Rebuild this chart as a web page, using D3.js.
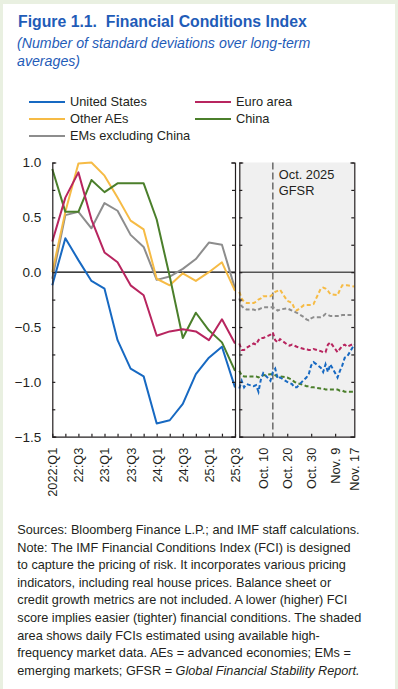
<!DOCTYPE html>
<html lang="en">
<head>
<meta charset="utf-8">
<style>
body { margin: 0; background: #e9f0e1; }
svg { display: block; font-family: "Liberation Sans", Arial, sans-serif; }
.axis text { font-size: 13.5px; fill: #231f20; }
.axis line, .axis path { stroke: #231f20; stroke-width: 1.2px; }
.xlab text { font-size: 12.8px; }
</style>
<script type="text/javascript" src="https://d3js.org/d3.v7.min.js"></script>
</head>
<body>
<script type="text/javascript">

// ---- data ----
var quarters = ["2022:Q1","22:Q2","22:Q3","22:Q4","23:Q1","23:Q2","23:Q3","23:Q4",
                "24:Q1","24:Q2","24:Q3","24:Q4","25:Q1","25:Q2","25:Q3"];

var usQ    = [-0.12, 0.31, 0.11, -0.08, -0.15, -0.62, -0.88, -0.95, -1.38, -1.35, -1.20, -0.93, -0.78, -0.68, -1.05];
var euroQ  = [0.28, 0.68, 0.91, 0.48, 0.18, 0.09, -0.12, -0.21, -0.58, -0.54, -0.52, -0.54, -0.62, -0.43, -0.65];
var aesQ   = [0.00, 0.55, 0.99, 1.00, 0.88, 0.68, 0.47, 0.39, -0.06, -0.12, -0.01, -0.08, 0.00, 0.09, -0.17];
var chinaQ = [0.94, 0.55, 0.55, 0.84, 0.73, 0.81, 0.81, 0.81, 0.48, -0.04, -0.60, -0.37, -0.53, -0.64, -0.90];
var emxQ   = [-0.06, 0.52, 0.55, 0.40, 0.63, 0.56, 0.34, 0.23, -0.07, -0.04, 0.03, 0.12, 0.27, 0.25, -0.15];

var days = ["2025-09-30","2025-10-01","2025-10-02","2025-10-03","2025-10-06","2025-10-07","2025-10-08",
            "2025-10-09","2025-10-10","2025-10-13","2025-10-14","2025-10-15","2025-10-16","2025-10-17",
            "2025-10-20","2025-10-21","2025-10-22","2025-10-23","2025-10-24","2025-10-27","2025-10-28",
            "2025-10-29","2025-10-30","2025-10-31","2025-11-03","2025-11-04","2025-11-05","2025-11-06",
            "2025-11-07","2025-11-10","2025-11-11","2025-11-12","2025-11-13","2025-11-14","2025-11-17"];

var usD    = [-1.06, -0.99, -1.05, -1.02, -1.04, -1.03, -1.09, -0.98, -0.92, -0.99, -0.91, -0.88, -0.97, -0.96,
              -1.00, -1.01, -1.02, -1.05, -1.05, -0.98, -0.96, -0.93, -0.85, -0.82, -0.87, -0.91, -0.84, -0.91,
              -0.84, -0.96, -0.90, -0.85, -0.78, -0.77, -0.66];
var euroD  = [-0.65, -0.71, -0.71, -0.69, -0.65, -0.66, -0.62, -0.60, -0.60, -0.57, -0.55, -0.62, -0.64, -0.61,
              -0.66, -0.67, -0.66, -0.67, -0.68, -0.70, -0.70, -0.71, -0.71, -0.70, -0.72, -0.73, -0.73, -0.66,
              -0.64, -0.73, -0.70, -0.67, -0.66, -0.68, -0.65];
var aesD   = [-0.18, -0.24, -0.27, -0.28, -0.28, -0.27, -0.25, -0.24, -0.22, -0.22, -0.20, -0.18, -0.17, -0.16,
              -0.26, -0.27, -0.28, -0.33, -0.35, -0.30, -0.30, -0.30, -0.30, -0.29, -0.15, -0.14, -0.15, -0.17,
              -0.20, -0.21, -0.16, -0.12, -0.12, -0.12, -0.13];
var chinaD = [-0.90, -0.94, -0.95, -0.95, -0.95, -0.95, -0.96, -0.95, -0.94, -0.93, -0.93, -0.94, -0.95, -0.95,
              -0.96, -0.97, -0.98, -1.00, -1.01, -1.03, -1.04, -1.04, -1.05, -1.05, -1.06, -1.06, -1.07, -1.07,
              -1.07, -1.07, -1.08, -1.08, -1.09, -1.09, -1.09];
var emxD   = [-0.24, -0.31, -0.33, -0.34, -0.34, -0.35, -0.34, -0.33, -0.32, -0.32, -0.32, -0.33, -0.35, -0.34,
              -0.33, -0.34, -0.35, -0.36, -0.37, -0.41, -0.43, -0.44, -0.42, -0.41, -0.41, -0.40, -0.38, -0.39,
              -0.40, -0.40, -0.40, -0.39, -0.39, -0.39, -0.39];

var dayTicks = ["2025-10-10","2025-10-20","2025-10-30","2025-11-09","2025-11-17"];
var dayTickLabels = ["Oct. 10","Oct. 20","Oct. 30","Nov. 9","Nov. 17"];
var gfsrDate = "2025-10-14";

var series = [
  { name: "United States",      color: "#1769c2", q: usQ,    d: usD },
  { name: "Euro area",          color: "#b8255f", q: euroQ,  d: euroD },
  { name: "Other AEs",          color: "#f6bb45", q: aesQ,   d: aesD },
  { name: "China",              color: "#4b7f2b", q: chinaQ, d: chinaD },
  { name: "EMs excluding China", color: "#8d8d8d", q: emxQ,   d: emxD }
];

var notes = [
  "Sources: Bloomberg Finance L.P.; and IMF staff calculations.",
  "Note: The IMF Financial Conditions Index (FCI) is designed",
  "to capture the pricing of risk. It incorporates various pricing",
  "indicators, including real house prices. Balance sheet or",
  "credit growth metrics are not included. A lower (higher) FCI",
  "score implies easier (tighter) financial conditions. The shaded",
  "area shows daily FCIs estimated using available high-",
  "frequency market data. AEs = advanced economies; EMs ="
];

// ---- svg ----
var width = 398, height = 689;
var svg = d3.select("body").append("svg")
    .attr("width", width)
    .attr("height", height);

svg.append("rect")
    .attr("x", 3).attr("y", 4)
    .attr("width", 392).attr("height", height - 4)
    .attr("fill", "#fff");

// title
svg.append("text")
    .attr("x", 18).attr("y", 27)
    .attr("fill", "#1f5cb8")
    .style("font-weight", "bold")
    .style("font-size", "15.8px")
    .text("Figure 1.1.\u00a0 Financial Conditions Index");

svg.selectAll(".sub")
    .data(["(Number of standard deviations over long-term", "averages)"])
  .enter().append("text")
    .attr("x", 17).attr("y", function(d, i) { return 48 + i * 18; })
    .attr("fill", "#1f5cb8")
    .style("font-style", "italic")
    .style("font-size", "14.2px")
    .text(function(d) { return d; });

// legend
var legendPos = [[29, 102], [195, 102], [29, 119], [195, 119], [29, 136]];
var legend = svg.selectAll(".legend")
    .data(series)
  .enter().append("g")
    .attr("transform", function(d, i) { return "translate(" + legendPos[i][0] + "," + legendPos[i][1] + ")"; });
legend.append("line")
    .attr("x1", 0).attr("x2", 36)
    .attr("stroke", function(d) { return d.color; })
    .attr("stroke-width", 2);
legend.append("text")
    .attr("x", 41).attr("dy", "0.35em")
    .style("font-size", "12.8px")
    .attr("fill", "#231f20")
    .text(function(d) { return d.name; });

// scales
var yTop = 162.5, yBottom = 436.7;
var y = d3.scaleLinear().domain([-1.5, 1.0]).range([yBottom, yTop]);
var yTicks = d3.range(-1.5, 1.01, 0.25);

var xq = d3.scalePoint().domain(quarters).range([52.3, 235]);

var parse = d3.timeParse("%Y-%m-%d");
var xd = d3.scaleTime()
    .domain([parse("2025-09-30"), parse("2025-11-17")])
    .range([239.3, 354.3]);

// shaded daily panel
svg.append("rect")
    .attr("x", xd.range()[0]).attr("y", yTop)
    .attr("width", xd.range()[1] - xd.range()[0])
    .attr("height", yBottom - yTop)
    .attr("fill", "#f0f0f0");

// zero lines
svg.append("line")
    .attr("x1", xq.range()[0]).attr("x2", xq.range()[1])
    .attr("y1", y(0)).attr("y2", y(0))
    .attr("stroke", "#000").attr("stroke-width", 1.2);
svg.append("line")
    .attr("x1", xd.range()[0]).attr("x2", xd.range()[1])
    .attr("y1", y(0)).attr("y2", y(0))
    .attr("stroke", "#555").attr("stroke-width", 1.6);

// GFSR marker
svg.append("line")
    .attr("x1", xd(parse(gfsrDate))).attr("x2", xd(parse(gfsrDate)))
    .attr("y1", yTop).attr("y2", yBottom)
    .attr("stroke", "#555").attr("stroke-width", 1.3)
    .attr("stroke-dasharray", "7,3");
svg.selectAll(".gfsr")
    .data(["Oct. 2025", "GFSR"])
  .enter().append("text")
    .attr("x", xd(parse(gfsrDate)) + 6)
    .attr("y", function(d, i) { return 179 + i * 16; })
    .style("font-size", "12.8px")
    .attr("fill", "#231f20")
    .text(function(d) { return d; });

// quarterly lines
var lineQ = d3.line()
    .x(function(d, i) { return xq(quarters[i]); })
    .y(function(d) { return y(d); });
var drawOrder = [4, 2, 3, 1, 0];
svg.append("g").selectAll("path")
    .data(drawOrder.map(function(k) { return series[k]; }))
  .enter().append("path")
    .attr("fill", "none")
    .attr("stroke", function(d) { return d.color; })
    .attr("stroke-width", 2)
    .attr("stroke-linejoin", "round")
    .attr("d", function(d) { return lineQ(d.q); });

// daily dashed lines
var lineD = d3.line()
    .x(function(d, i) { return xd(parse(days[i])); })
    .y(function(d) { return y(d); });
svg.append("g").selectAll("path")
    .data(drawOrder.map(function(k) { return series[k]; }))
  .enter().append("path")
    .attr("fill", "none")
    .attr("stroke", function(d) { return d.color; })
    .attr("stroke-width", 2)
    .attr("stroke-dasharray", "4,2.5")
    .attr("d", function(d) { return lineD(d.d); });

// axes: left panel
var fmt = d3.format(".1f");
svg.append("g")
    .attr("class", "axis")
    .attr("transform", "translate(" + xq.range()[0] + ",0)")
    .call(d3.axisLeft(y).tickValues(yTicks).tickSizeInner(-3).tickSizeOuter(-4).tickPadding(11)
      .tickFormat(function(d) { return Math.abs(d * 2 - Math.round(d * 2)) < 1e-6 ? fmt(d) : ""; }));

svg.append("g")
    .attr("class", "axis")
    .attr("transform", "translate(" + xq.range()[1] + ",0)")
    .call(d3.axisRight(y).tickValues(yTicks).tickSizeInner(-3).tickSizeOuter(-4).tickFormat(""));

svg.append("g")
    .attr("class", "axis xlab")
    .attr("transform", "translate(0," + yBottom + ")")
    .call(d3.axisBottom(xq).tickSizeInner(-3).tickSizeOuter(0)
      .tickFormat(function(d, i) { return i % 2 === 0 ? d : ""; }))
  .selectAll("text")
    .attr("transform", "rotate(-90)")
    .attr("x", -11).attr("y", 0).attr("dy", "0.35em")
    .style("text-anchor", "end");

// axes: daily panel
svg.append("g")
    .attr("class", "axis")
    .attr("transform", "translate(" + xd.range()[0] + ",0)")
    .call(d3.axisLeft(y).tickValues(yTicks).tickSizeInner(-3).tickSizeOuter(-4).tickFormat(""));

svg.append("g")
    .attr("class", "axis")
    .attr("transform", "translate(" + xd.range()[1] + ",0)")
    .call(d3.axisRight(y).tickValues(yTicks).tickSizeInner(-3).tickSizeOuter(-4).tickFormat(""));

var dayAxis = svg.append("g")
    .attr("class", "axis xlab")
    .attr("transform", "translate(0," + yBottom + ")")
    .call(d3.axisBottom(xd).tickValues(dayTicks.map(parse)).tickSizeInner(-3).tickSizeOuter(0)
      .tickFormat(function(d, i) { return dayTickLabels[i]; }));
dayAxis.selectAll("text")
    .attr("transform", "rotate(-90)")
    .attr("x", -11).attr("y", 0).attr("dy", "0.35em")
    .style("text-anchor", "end");
// last tick sits on the panel edge, so no tick mark there
dayAxis.selectAll(".tick line").filter(function(d, i) { return i === dayTicks.length - 1; }).remove();

// notes
var noteG = svg.append("g")
    .style("font-size", "12.7px")
    .attr("fill", "#231f20");
noteG.selectAll("text")
    .data(notes)
  .enter().append("text")
    .attr("x", 17.3)
    .attr("y", function(d, i) { return 534 + i * 17.6; })
    .text(function(d) { return d; });
var last = noteG.append("text")
    .attr("x", 17.3)
    .attr("y", 534 + notes.length * 17.6);
last.append("tspan").text("emerging markets; GFSR = ");
last.append("tspan").style("font-style", "italic").text("Global Financial Stability Report.");

</script>
</body>
</html>
